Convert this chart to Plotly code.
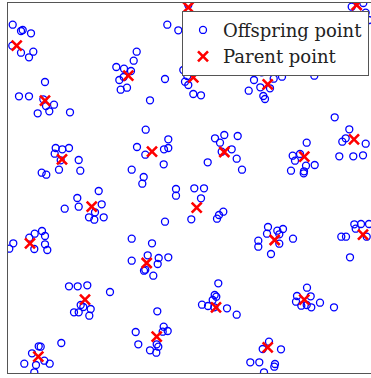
import plotly.graph_objects as go

# Parent (cluster centre) locations
parent_x = [180.3, 348.7, 8.7, 120.3, 185.3, 259.7, 37.0, 346.0, 144.0, 216.3, 296.3, 54.0,
            83.7, 188.7, 22.0, 138.7, 266.7, 355.0, 77.0, 208.0, 296.3, 148.7, 30.3, 259.7]
parent_y = [365.7, 368.0, 327.3, 297.3, 295.7, 288.7, 272.3, 233.7, 221.3, 221.0, 216.3, 213.7,
            166.3, 165.3, 129.7, 110.0, 133.0, 138.3, 73.3, 65.7, 73.3, 36.3, 16.3, 25.7]

# Offspring locations scattered around the parents
offspring_x = [
    4.7, 13.0, 14.7, 23.0, 4.3, 13.0, 21.0, 25.3, 159.3, 170.3, 128.7, 125.7, 108.3, 116.0,
    123.0, 115.7, 111.3, 119.0, 112.7, 157.0, 175.3, 179.3, 177.0, 180.3, 185.3, 193.0,
    37.0, 11.0, 21.0, 35.3, 38.0, 41.3, 46.0, 29.7, 62.0, 142.0, 137.7, 160.3, 129.0, 137.3,
    156.0, 160.3, 155.7, 123.7, 135.7, 134.3, 168.0, 168.0, 47.7, 54.3, 61.0, 46.7, 52.7,
    70.7, 51.0, 72.3, 33.7, 38.3, 90.7, 180.3, 343.7, 355.3, 357.7, 361.0, 253.7, 246.0,
    265.7, 274.0, 252.3, 262.0, 240.7, 255.3, 257.0, 306.3, 324.0, 326.7, 341.3, 337.7,
    334.3, 357.7, 331.3, 345.3, 355.0, 207.0, 216.3, 229.7, 212.0, 213.7, 223.7, 228.7,
    199.7, 234.0, 298.7, 284.7, 292.0, 287.0, 298.0, 306.7, 283.0, 296.0, 295.7, 186.3,
    196.0, 69.3, 70.7, 56.7, 93.7, 87.0, 81.0, 86.3, 95.7, 157.0, 183.3, 34.0, 26.7, 21.3,
    37.0, 5.3, 1.3, 26.3, 37.0, 39.3, 123.7, 144.0, 139.7, 150.7, 160.3, 123.7, 149.7,
    136.0, 137.3, 145.3, 61.0, 69.7, 79.3, 102.0, 72.7, 75.3, 82.7, 66.0, 70.7, 81.3,
    149.3, 155.7, 159.7, 154.7, 127.7, 130.3, 148.7, 150.3, 142.0, 148.3, 53.3, 30.7,
    32.7, 24.0, 36.3, 41.7, 28.0, 16.3, 26.3, 193.0, 215.3, 211.0, 209.0, 260.0, 259.0,
    269.3, 275.0, 271.3, 250.3, 250.3, 271.3, 285.0, 263.0, 346.3, 353.0, 361.0, 347.7,
    333.3, 338.0, 358.7, 342.0, 210.3, 206.7, 208.3, 204.7, 194.0, 200.0, 206.3, 219.0,
    228.7, 299.0, 289.0, 302.7, 288.0, 293.3, 298.7, 303.3, 312.0, 326.0, 261.0, 254.7,
    273.0, 242.3, 251.3, 267.0, 266.3, 256.0,
]
offspring_y = [
    348.3, 342.0, 343.0, 339.7, 327.3, 320.3, 315.7, 321.3, 348.3, 342.7, 321.3, 312.3,
    306.0, 304.3, 302.0, 296.0, 293.0, 285.3, 283.3, 294.0, 303.0, 297.0, 291.3, 288.0,
    279.0, 277.7, 291.0, 276.7, 276.7, 273.7, 267.0, 261.7, 268.3, 259.7, 260.7, 272.7,
    243.3, 233.7, 226.0, 218.3, 223.7, 225.0, 208.7, 203.3, 196.0, 189.3, 184.0, 177.3,
    225.0, 223.7, 225.0, 219.3, 212.7, 213.0, 203.3, 202.3, 200.3, 198.3, 182.0, 368.0,
    366.3, 370.0, 360.3, 353.0, 300.7, 293.0, 294.3, 296.3, 285.7, 284.7, 282.3, 277.0,
    274.0, 297.3, 303.7, 255.7, 243.7, 234.7, 231.3, 229.3, 216.7, 216.7, 217.7, 234.7,
    238.0, 237.0, 230.3, 221.3, 223.7, 214.3, 210.7, 203.3, 230.3, 217.3, 219.0, 212.3,
    207.3, 208.0, 202.3, 201.7, 199.7, 184.7, 184.7, 175.0, 166.3, 164.3, 168.7, 160.7,
    155.7, 153.3, 155.7, 151.3, 153.7, 142.0, 139.3, 135.3, 137.0, 129.7, 124.3, 124.0,
    128.7, 123.0, 134.3, 129.7, 117.7, 115.0, 115.7, 112.3, 109.0, 102.3, 103.3, 97.3,
    86.7, 86.7, 87.7, 81.0, 68.0, 66.0, 64.0, 60.7, 60.7, 57.3, 61.7, 46.3, 42.0, 41.3,
    41.0, 28.7, 28.7, 26.3, 22.7, 20.3, 30.0, 26.7, 26.3, 19.7, 12.3, 9.3, 8.0, 9.3, 0.7,
    174.7, 161.3, 158.0, 154.3, 146.0, 139.3, 142.3, 144.0, 138.7, 132.3, 126.3, 129.3,
    134.3, 119.0, 148.7, 149.0, 149.0, 144.3, 136.3, 136.3, 136.3, 115.7, 89.7, 78.0,
    76.3, 73.0, 68.3, 67.0, 65.7, 64.7, 58.3, 85.3, 77.0, 76.7, 71.3, 67.3, 68.0, 65.7,
    70.3, 65.7, 31.3, 24.0, 23.7, 10.7, 10.7, 9.0, 6.3, 0.7,
]

fig = go.Figure()

fig.add_trace(go.Scatter(
    x=offspring_x, y=offspring_y, mode="markers", name="Offspring point",
    marker=dict(symbol="circle-open", size=7, color="#0000ff", line=dict(width=1.3, color="#0000ff")),
))
fig.add_trace(go.Scatter(
    x=parent_x, y=parent_y, mode="markers", name="Parent point",
    marker=dict(symbol="x-thin-open", size=10, color="#ff0000", line=dict(width=2.6, color="#ff0000")),
))

fig.update_layout(
    width=371, height=378,
    margin=dict(l=8, r=0, t=3, b=5),
    paper_bgcolor="white", plot_bgcolor="white",
    showlegend=True,
    legend=dict(
        x=0.9945, xanchor="right", y=0.979, yanchor="top",
        bgcolor="white", bordercolor="#555555", borderwidth=1,
        font=dict(family="DejaVu Serif, Liberation Serif, serif", size=18, color="#222222"),
        tracegroupgap=0,
    ),
)
fig.update_xaxes(range=[0, 363], showgrid=False, zeroline=False, showticklabels=False, ticks="",
                 showline=True, linecolor="#555555", linewidth=1, mirror=True)
fig.update_yaxes(range=[0, 370], showgrid=False, zeroline=False, showticklabels=False, ticks="",
                 showline=True, linecolor="#555555", linewidth=1, mirror=False)

fig.write_html("out.html")
